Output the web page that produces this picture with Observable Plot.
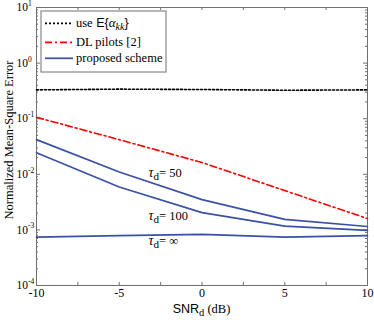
<!DOCTYPE html>
<html><head><meta charset="utf-8">
<script src="https://cdn.jsdelivr.net/npm/d3@7"></script>
<script src="https://cdn.jsdelivr.net/npm/@observablehq/plot@0.6"></script>
<style>body{margin:0;background:#fff}#chart{width:374px;height:320px}
#chart svg text{font-family:"Liberation Serif","Times New Roman",serif}
#chart svg .sans{font-family:"Liberation Sans",Arial,sans-serif}
</style>
</head><body><div id="chart"></div>
<script>
const snr = [-10, -5, 0, 5, 10];
const useE = [0.33, 0.34, 0.335, 0.325, 0.33];
const dlPilots = [0.106, 0.042, 0.0163, 0.0051, 0.0016];
const tau50 = [0.042, 0.011, 0.0035, 0.00155, 0.00115];
const tau100 = [0.0245, 0.0059, 0.00204, 0.00117, 0.00098];
const tauInf = [0.00074, 0.00079, 0.00083, 0.00074, 0.00079];
const xTicks = [-10, -5, 0, 5, 10];
const xMinor = [-7.5, -2.5, 2.5, 7.5];
const yExp = [1, 0, -1, -2, -3, -4];
const legendNames = ["use", "DL pilots [2]", "proposed scheme"];
const curveTau = ["50", "100", "\u221E"];
const curveLabelX = [-3.2, -3.2, -3.2];
const curveLabelY = [8.7e-3, 1.5e-3, 5.2e-4];

const rows = (ys) => snr.map((x, i) => ({x, y: ys[i]}));
const yMajor = yExp.map(e => 10 ** e);
const yMinor = [];
for (let e = -4; e <= 0; e++) for (let m = 2; m <= 9; m++) yMinor.push(m * 10 ** e);
const xAll = xTicks.concat(xMinor);

const W = 374, H = 320, mL = 36, mR = 7, mT = 7, mB = 35;
const pw = W - mL - mR, ph = H - mT - mB;
const gray = "#707070";
const blue = "#3a51a6";
const red = "#ff0000";
const serif = "Liberation Serif, Times New Roman, serif";

const plot = Plot.plot({
  width: W, height: H,
  marginLeft: mL, marginRight: mR, marginTop: mT, marginBottom: mB,
  x: {domain: [-10, 10], axis: null},
  y: {type: "log", domain: [1e-4, 10], axis: null},
  style: {background: "#fff", fontFamily: serif, color: "#000"},
  marks: [
    Plot.frame({stroke: gray}),
    Plot.tickY(yMajor, {y: d => d, stroke: gray, insetRight: pw - 4}),
    Plot.tickY(yMajor, {y: d => d, stroke: gray, insetLeft: pw - 4}),
    Plot.tickY(yMinor, {y: d => d, stroke: gray, insetRight: pw - 2}),
    Plot.tickY(yMinor, {y: d => d, stroke: gray, insetLeft: pw - 2}),
    Plot.tickX(xAll, {x: d => d, stroke: gray, insetTop: ph - 3}),
    Plot.tickX(xAll, {x: d => d, stroke: gray, insetBottom: ph - 3}),
    Plot.line(rows(useE), {x: "x", y: "y", stroke: "#000", strokeWidth: 1.6, strokeDasharray: "2,2"}),
    Plot.line(rows(dlPilots), {x: "x", y: "y", stroke: red, strokeWidth: 1.6, strokeDasharray: "7,3,2,3"}),
    Plot.line(rows(tau50), {x: "x", y: "y", stroke: blue, strokeWidth: 1.7}),
    Plot.line(rows(tau100), {x: "x", y: "y", stroke: blue, strokeWidth: 1.7}),
    Plot.line(rows(tauInf), {x: "x", y: "y", stroke: blue, strokeWidth: 1.7}),
    Plot.text(yExp, {y: d => 10 ** d, text: () => "10", frameAnchor: "left", textAnchor: "end", dx: -8.5, fontSize: 11.5}),
    Plot.text(yExp, {y: d => 10 ** d, text: d => String(d), frameAnchor: "left", textAnchor: "start", dx: -8.5, dy: -4, fontSize: 7.5}),
    Plot.text(xTicks, {x: d => d, text: d => String(d), frameAnchor: "bottom", dy: 11, fontSize: 12})
  ]
});
document.getElementById("chart").appendChild(plot);

const svg = d3.select(plot);
const sx = plot.scale("x"), sy = plot.scale("y");

// Y label
svg.append("text")
  .attr("transform", "translate(9,140) rotate(-90)")
  .attr("text-anchor", "middle").attr("dy", "0.32em")
  .attr("font-size", 12.5).attr("fill", "#000")
  .text("Normalized Mean-Square Error");

// X label
const xl = svg.append("text").attr("x", 201.5).attr("y", 313).attr("text-anchor", "middle")
  .attr("font-size", 12.5).attr("fill", "#000");
xl.append("tspan").attr("class", "sans").text("SNR");
xl.append("tspan").attr("font-size", 10.5).attr("dy", 3).text("d");
xl.append("tspan").attr("dy", -3).text(" (dB)");

// curve labels
curveTau.forEach((t, i) => {
  const tx = svg.append("text").attr("x", sx.apply(curveLabelX[i])).attr("y", sy.apply(curveLabelY[i]))
    .attr("text-anchor", "start").attr("font-size", 12.5).attr("fill", "#000");
  tx.append("tspan").attr("font-style", "italic").attr("font-size", 14).text("\u03C4");
  tx.append("tspan").attr("font-size", 11).attr("dy", 3).text("d");
  tx.append("tspan").attr("dy", -3).text("= " + t);
});

// legend
const lg = svg.append("g");
lg.append("rect").attr("x", 41).attr("y", 11).attr("width", 125).attr("height", 61)
  .attr("fill", "#fff").attr("stroke", gray);
const ly = [23.3, 42.3, 58.3];
const lstyles = [{s: "#000", d: "2,2"}, {s: red, d: "7,3,2,3"}, {s: blue, d: null}];
legendNames.forEach((n, i) => {
  lg.append("line").attr("x1", 45).attr("x2", 73).attr("y1", ly[i]).attr("y2", ly[i])
    .attr("stroke", lstyles[i].s).attr("stroke-width", 1.7).attr("stroke-dasharray", lstyles[i].d);
  const t = lg.append("text").attr("x", 76).attr("y", ly[i] + 4).attr("text-anchor", "start")
    .attr("font-size", 12.5).attr("fill", "#000");
  t.append("tspan").text(n);
  if (i === 0) {
    t.append("tspan").attr("class", "sans").text(" E{");
    t.append("tspan").attr("font-style", "italic").attr("font-size", 13).text("\u03B1");
    t.append("tspan").attr("font-style", "italic").attr("font-size", 10).attr("dy", 3).text("kk");
    t.append("tspan").attr("class", "sans").attr("dy", -3).text("}");
  }
});
</script>
</body></html>
